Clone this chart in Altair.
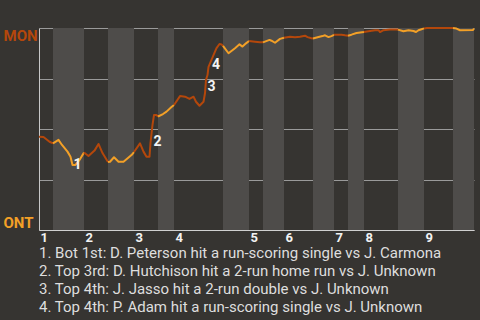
import altair as alt
import pandas as pd

# Half-inning boundaries (play index); even index -> top half starts
half_bounds = [0, 2.8, 9, 13.8, 19, 23.8, 27, 36.8, 42, 44.8, 49, 54.8, 59, 61.8, 65, 71.8, 77, 82.8, 87]

# Win probability path (play index, MON win %)
play_u = [0, 0.9, 2.1, 2.8,
          3.9, 4.6, 5.7, 6.3, 6.7, 7.3, 8.1, 9,
          9.9, 11.1, 11.9, 12.7, 13.8,
          14.2, 15, 15.9, 16.9, 18.5, 19,
          20.2, 20.9, 21.5, 22.1, 22.3, 22.7, 23, 23.5, 23.8,
          24.8, 25.5, 26.5, 27,
          28.2, 29.2, 30.1, 30.9, 31.4, 32.1, 32.9, 33.2, 33.4, 33.7, 33.9, 34.2, 34.9, 35.5, 36.1, 36.5, 36.8,
          37.9, 39.2, 40.1, 40.7, 41.4, 42,
          43.2, 44.2, 44.8,
          46.1, 46.5, 47.2, 48.2, 49,
          50.2, 51.2, 52.2, 53.2, 53.7, 54.5, 54.8,
          55.9, 56.7, 57.2, 57.9, 58.5, 59,
          60.5, 61.2, 61.8,
          62.5, 63.5, 65,
          65.9, 67.2, 67.9, 68.2, 68.9, 70.2, 71.8,
          72.9, 73.9, 74.9, 75.4, 75.9, 76.5, 77,
          77.6, 82.8,
          83.5, 84.2, 86.8, 87]
mon_pct = [46.2, 46.0, 43.7, 42.9,
           44.6, 42.1, 38.8, 36.3, 32.2, 32.2, 34.7, 38.4,
           36.6, 39.3, 42.6, 38.1, 33.7,
           33.8, 36.0, 33.8, 33.8, 37.1, 38.6,
           42.9, 38.8, 36.3, 36.3, 43.1, 52.0, 56.9, 56.9, 56.2,
           57.4, 58.6, 60.9, 61.9,
           66.3, 66.0, 64.9, 66.0, 63.5, 61.5, 63.5, 67.7, 74.3, 76.7, 80.8, 82.5, 86.6, 90.0, 92.1, 91.9, 91.1,
           87.5, 90.0, 91.9, 90.8, 92.4, 93.6,
           93.2, 92.9, 92.9,
           94.1, 93.7, 92.7, 94.6, 95.2,
           95.7, 95.4, 95.7, 96.2, 95.5, 94.9, 94.8,
           95.5, 96.0, 96.4, 95.5, 96.0, 96.6,
           96.7, 96.4, 96.2,
           96.7, 97.5, 98.0,
           98.4, 98.9, 98.9, 98.0, 98.9, 99.2, 99.2,
           98.4, 98.9, 98.5, 98.0, 98.9, 99.4, 99.8,
           100, 100,
           99.7, 98.9, 99.0, 99.8]

event_u = [6.7, 22.7, 33.5, 34.4]
event_pct = [32.2, 43.6, 70.8, 81.7]
event_lbl = ["1", "2", "3", "4"]

footer = [
    "1. Bot 1st: D. Peterson hit a run-scoring single vs J. Carmona",
    "2. Top 3rd: D. Hutchison hit a 2-run home run vs J. Unknown",
    "3. Top 4th: J. Jasso hit a 2-run double vs J. Unknown",
    "4. Top 4th: P. Adam hit a run-scoring single vs J. Unknown",
]

DARK = "#b4470b"
LIGHT = "#f3a027"
BG = "#363431"
BAND = "#4e4c4a"
FONT = "Roboto"

inning_starts = half_bounds[0:-1:2]

bands = pd.DataFrame({
    "u": [half_bounds[i] for i in range(1, len(half_bounds) - 1, 2)],
    "u2": [half_bounds[i + 1] for i in range(1, len(half_bounds) - 1, 2)],
})

rows = []
for i in range(len(half_bounds) - 1):
    s, e = half_bounds[i], half_bounds[i + 1]
    for u, p in zip(play_u, mon_pct):
        if s - 1e-9 <= u <= e + 1e-9:
            rows.append({"u": u, "p": p, "hid": i, "half": "top" if i % 2 == 0 else "bot"})
line_df = pd.DataFrame(rows)

events = pd.DataFrame({"u": event_u, "p": event_pct, "lbl": event_lbl})

xscale = alt.Scale(domain=[0, half_bounds[-1]], nice=False, zero=False)
yscale = alt.Scale(domain=[0, 100], nice=False)

starts_js = "[" + ",".join(str(v) for v in inning_starts) + "]"
xaxis = alt.Axis(
    values=inning_starts, labelExpr=f"indexof({starts_js}, datum.value) + 1",
    title=None, grid=False, ticks=False, tickSize=0, labelPadding=1,
    labelAlign="left", labelOffset=1, labelFlush=False, labelFont=FONT,
    labelFontSize=13, labelFontWeight="bold", labelColor="#f2f2f2",
    domainColor="#d0d0d0", domainWidth=1, labelOverlap=False,
)
yaxis = alt.Axis(
    values=[0, 25, 50, 75, 100],
    labelExpr="datum.value == 100 ? 'MON' : (datum.value == 0 ? 'ONT' : '')",
    labelColor={"condition": {"test": "datum.value == 100", "value": DARK}, "value": LIGHT},
    labelFlush=True, labelFlushOffset=0, labelAlign="left", labelPadding=36, ticks=False, tickSize=0,
    labelFont=FONT, labelFontSize=15, labelFontWeight="bold",
    grid=True, gridColor="#9a9a9a", gridWidth=1, domainColor="#c8c8c8", domainWidth=1,
    title=None, labelOverlap=False,
)

xenc = alt.X("u:Q", scale=xscale, axis=xaxis)
yenc = alt.Y("p:Q", scale=yscale, axis=yaxis)

band_layer = alt.Chart(bands).mark_rect(color=BAND).encode(x=xenc, x2="u2:Q")

line_layer = alt.Chart(line_df).mark_line(strokeWidth=2, strokeJoin="round").encode(
    x=xenc, y=yenc,
    color=alt.Color("half:N", scale=alt.Scale(domain=["top", "bot"], range=[DARK, LIGHT]), legend=None),
    detail="hid:N", order="u:Q",
)

text_layer = alt.Chart(events).mark_text(
    font=FONT, fontSize=14, fontWeight="bold", color="#f4f4f4", align="center", baseline="middle", dx=5
).encode(x=xenc, y=yenc, text="lbl:N")

chart = alt.layer(band_layer, line_layer, text_layer).properties(
    width=435, height=202,
    background=BG,
    padding={"left": 39, "top": 28, "right": 6, "bottom": 90},
    autosize=alt.AutoSizeParams(type="none"),
    title=alt.TitleParams(
        text=footer, orient="bottom", anchor="start", frame="group",
        font=FONT, fontSize=15, fontWeight="normal", color="#dedede",
        lineHeight=18, offset=2,
    ),
).configure_view(stroke=None)

chart.save("out.html", embed_options={"renderer": "svg", "actions": False})
